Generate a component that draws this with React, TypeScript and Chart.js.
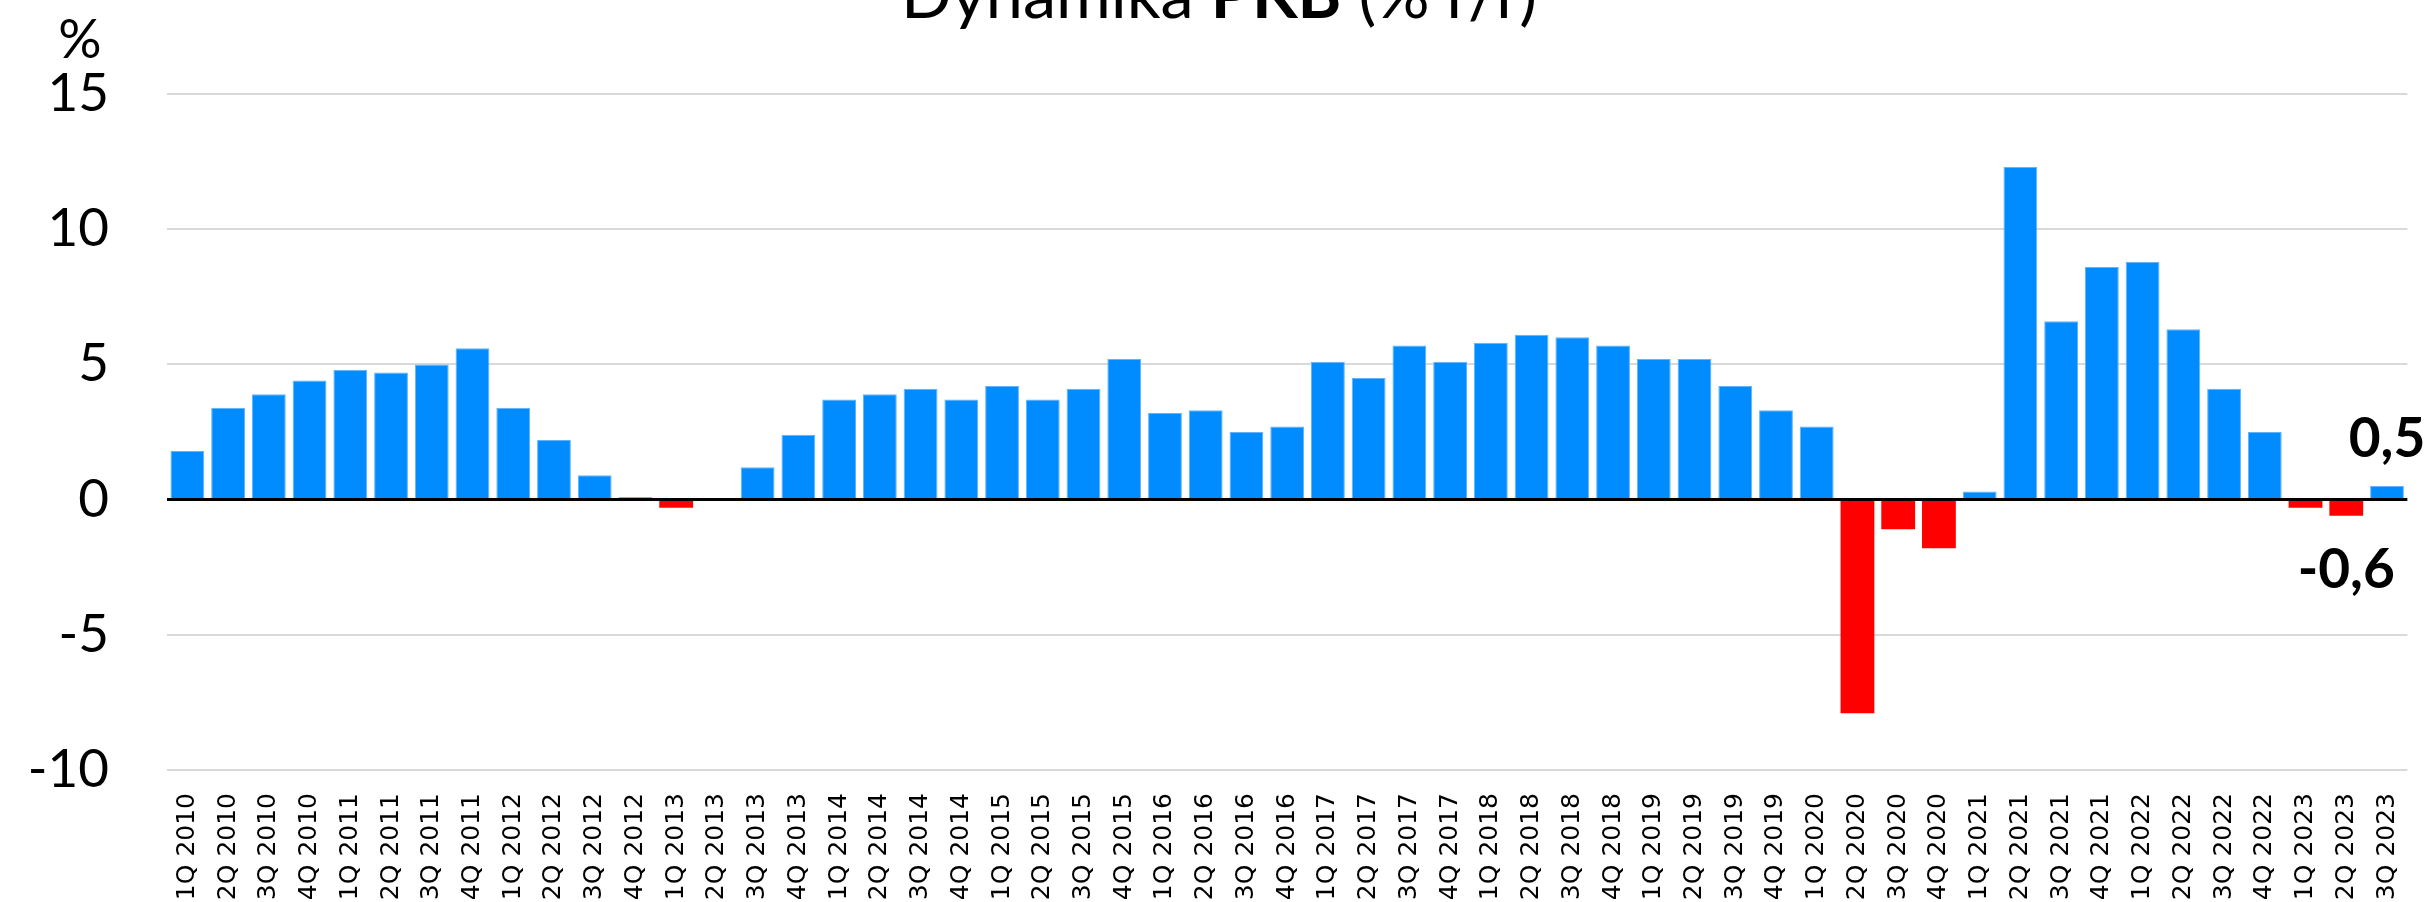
import React, { useEffect, useRef } from "react";
import { Chart, registerables } from "chart.js";

Chart.register(...registerables);

const categories = [
  "1Q 2010", "2Q 2010", "3Q 2010", "4Q 2010",
  "1Q 2011", "2Q 2011", "3Q 2011", "4Q 2011",
  "1Q 2012", "2Q 2012", "3Q 2012", "4Q 2012",
  "1Q 2013", "2Q 2013", "3Q 2013", "4Q 2013",
  "1Q 2014", "2Q 2014", "3Q 2014", "4Q 2014",
  "1Q 2015", "2Q 2015", "3Q 2015", "4Q 2015",
  "1Q 2016", "2Q 2016", "3Q 2016", "4Q 2016",
  "1Q 2017", "2Q 2017", "3Q 2017", "4Q 2017",
  "1Q 2018", "2Q 2018", "3Q 2018", "4Q 2018",
  "1Q 2019", "2Q 2019", "3Q 2019", "4Q 2019",
  "1Q 2020", "2Q 2020", "3Q 2020", "4Q 2020",
  "1Q 2021", "2Q 2021", "3Q 2021", "4Q 2021",
  "1Q 2022", "2Q 2022", "3Q 2022", "4Q 2022",
  "1Q 2023", "2Q 2023", "3Q 2023",
];

const gdpValues = [
  1.8, 3.4, 3.9, 4.4,
  4.8, 4.7, 5.0, 5.6,
  3.4, 2.2, 0.9, 0.1,
  -0.3, 0.0, 1.2, 2.4,
  3.7, 3.9, 4.1, 3.7,
  4.2, 3.7, 4.1, 5.2,
  3.2, 3.3, 2.5, 2.7,
  5.1, 4.5, 5.7, 5.1,
  5.8, 6.1, 6.0, 5.7,
  5.2, 5.2, 4.2, 3.3,
  2.7, -7.9, -1.1, -1.8,
  0.3, 12.3, 6.6, 8.6,
  8.8, 6.3, 4.1, 2.5,
  -0.3, -0.6, 0.5,
];

const labeledIndices = [53, 54];
const yTicks = [-10, -5, 0, 5, 10, 15];
const titleParts = [
  { text: "Dynamika ", bold: false },
  { text: "PKB", bold: true },
  { text: " (% r/r)", bold: false },
];
const axisUnit = "%";

const VIEW_W = 2428;
const W = 2440;
const H = 930;
const BLUE = "#008BFF";
const RED = "#FF0000";
const FONT = "Lato, 'Open Sans', sans-serif";

export default function App() {
  const ref = useRef<HTMLCanvasElement | null>(null);

  useEffect(() => {
    const canvas = ref.current;
    if (!canvas) return;

    const decorPlugin = {
      id: "decor",
      afterDatasetsDraw(chart: any) {
        const ctx = chart.ctx;
        const { left, right } = chart.chartArea;
        const y0 = chart.scales.y.getPixelForValue(0);
        ctx.save();
        ctx.strokeStyle = "#000000";
        ctx.lineWidth = 3;
        ctx.beginPath();
        ctx.moveTo(left, y0);
        ctx.lineTo(right, y0);
        ctx.stroke();

        const meta = chart.getDatasetMeta(0);
        ctx.fillStyle = "#000000";
        ctx.font = `bold 55px ${FONT}`;
        ctx.textAlign = "center";
        ctx.textBaseline = "alphabetic";
        labeledIndices.forEach((i) => {
          const el = meta.data[i];
          const v = gdpValues[i];
          const txt = v.toFixed(1).replace(".", ",");
          if (v >= 0) {
            ctx.fillText(txt, el.x, el.y - 29);
          } else {
            ctx.fillText(txt, el.x, el.y + 72);
          }
        });
        ctx.restore();
      },
      afterDraw(chart: any) {
        const ctx = chart.ctx;
        ctx.save();
        ctx.fillStyle = "#000000";
        ctx.textBaseline = "alphabetic";
        const base = 100;
        const widths = titleParts.map((p) => {
          ctx.font = `${p.bold ? "bold " : ""}${base}px ${FONT}`;
          return ctx.measureText(p.text).width;
        });
        const total = widths.reduce((a, b) => a + b, 0);
        const size = (base * 636) / total;
        let x = 1219 - (total * size) / base / 2;
        ctx.textAlign = "left";
        titleParts.forEach((p) => {
          ctx.font = `${p.bold ? "bold " : ""}${size}px ${FONT}`;
          ctx.fillText(p.text, x, 18);
          x += ctx.measureText(p.text).width;
        });
        ctx.font = `54px ${FONT}`;
        ctx.textAlign = "center";
        ctx.fillText(axisUnit, 80, 58);
        ctx.restore();
      },
    };

    const chart = new Chart(canvas, {
      type: "bar",
      data: {
        labels: categories,
        datasets: [
          {
            data: gdpValues,
            backgroundColor: gdpValues.map((v) => (v >= 0 ? BLUE : RED)),
            borderColor: gdpValues.map((v) => (v >= 0 ? "#5fb3ff" : RED)),
            borderWidth: gdpValues.map((v) => (v >= 0 ? 1 : 0)),
            borderSkipped: "bottom",
            barPercentage: 0.83,
            categoryPercentage: 1,
          },
        ],
      },
      options: {
        responsive: false,
        animation: false,
        devicePixelRatio: 1,
        layout: { padding: { top: 94, right: 0, left: 0, bottom: 0 } },
        plugins: {
          legend: { display: false },
          title: { display: false },
          tooltip: { enabled: false },
        },
        scales: {
          x: {
            grid: { display: false, drawTicks: false },
            border: { display: false },
            ticks: {
              autoSkip: false,
              maxRotation: 90,
              minRotation: 90,
              padding: 23,
              color: "#000000",
              font: { family: "'DejaVu Sans', Verdana, sans-serif", size: 25 },
            },
            afterFit(scale: any) {
              scale.height = H - 770;
            },
          },
          y: {
            min: -10,
            max: 15,
            afterBuildTicks(scale: any) {
              scale.ticks = yTicks.map((v) => ({ value: v }));
            },
            grid: {
              color: (c: any) => (c.tick && c.tick.value === 0 ? "rgba(0,0,0,0)" : "#D9D9D9"),
              lineWidth: 2,
              drawTicks: false,
            },
            border: { display: false },
            ticks: {
              padding: 58,
              color: "#000000",
              font: { family: FONT, size: 53 },
              callback: (v: any) => String(v),
            },
            afterFit(scale: any) {
              scale.width = 167;
            },
          },
        },
      },
      plugins: [decorPlugin],
    });

    return () => chart.destroy();
  }, []);

  return (
    <div style={{ position: "fixed", left: 0, top: 0, width: VIEW_W, height: 902, overflow: "hidden", background: "#fff" }}>
      <canvas ref={ref} width={W} height={H} style={{ display: "block", width: W, height: H }} />
    </div>
  );
}
